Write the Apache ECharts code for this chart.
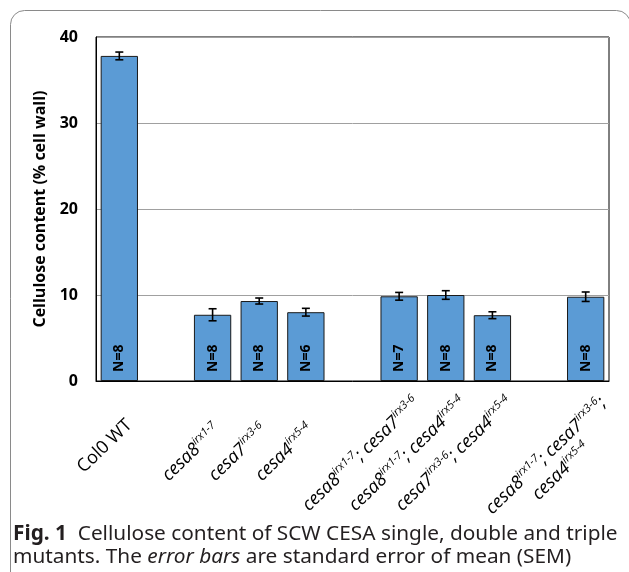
<!DOCTYPE html>
<html lang="en">
<head>
    <meta charset="UTF-8">
    <title>Cellulose content</title>
    <script src="https://cdn.jsdelivr.net/npm/echarts@6/dist/echarts.min.js"></script>
    <style>
        html, body { margin: 0; padding: 0; background: #fff; }
        #chart { width: 629px; height: 572px; }
    </style>
</head>
<body>
<div id="chart"></div>
<script>
    // categories (blank ones are the gaps between groups)
    var categories = [
        '{n|Col0 WT}',
        ' ',
        '{i|cesa8}{s|irx1-7}',
        '{i|cesa7}{s|irx3-6}',
        '{i|cesa4}{s|irx5-4}',
        '  ',
        '{i|cesa8}{s|irx1-7}{i|; cesa7}{s|irx3-6}',
        '{i|cesa8}{s|irx1-7}{i|; cesa4}{s|irx5-4}',
        '{i|cesa7}{s|irx3-6}{i|; cesa4}{s|irx5-4}',
        '   ',
        '{i|cesa8}{s|irx1-7}{i|; cesa7}{s|irx3-6}{i|;}\n{ic|cesa4}{sc|irx5-4}'
    ];
    var means = [37.8, null, 7.7, 9.3, 8.0, null, 9.85, 10.0, 7.65, null, 9.8];
    var sems = [0.45, null, 0.7, 0.35, 0.45, null, 0.45, 0.5, 0.4, null, 0.55];
    var nLabels = ['N=8', '', 'N=8', 'N=8', 'N=6', '', 'N=7', 'N=8', 'N=8', '', 'N=8'];
    var yTicks = [0, 10, 20, 30, 40];

    var errData = [];
    means.forEach(function (m, i) {
        if (m != null) errData.push([i, m - sems[i], m + sems[i]]);
    });

    // excel centres its slanted labels, so nudge each one a bit
    var labelPad = [
        [6, -11, 0, 0], null,
        [6, -4, 0, 0], [6, -4, 0, 0], [6, -4, 0, 0], null,
        [0, -32, 15, 0], [0, -32, 15, 0], [0, -32, 15, 0], null,
        [7, -32, 0, 0]
    ];
    var axisData = categories.map(function (c, i) {
        return labelPad[i] ? { value: c, textStyle: { padding: labelPad[i] } } : c;
    });

    var FONT = '"Open Sans", "Noto Sans", sans-serif';
    var CAP = '"Noto Sans", sans-serif';

    var myChart = echarts.init(document.getElementById('chart'));
    var option = {
        animation: false,
        backgroundColor: '#fff',
        title: {
            left: 13,
            top: 523,
            padding: 0,
            text: '{b|Fig. 1}  Cellulose content of SCW CESA single, double and triple\nmutants. The {it|error bars} are standard error of mean (SEM)',
            textStyle: {
                fontFamily: CAP,
                fontSize: 20.8,
                fontWeight: 'normal',
                color: '#231f20',
                lineHeight: 23,
                rich: {
                    b: { fontFamily: CAP, fontSize: 20.8, fontWeight: 'bold', color: '#231f20', lineHeight: 23 },
                    it: { fontFamily: CAP, fontSize: 20.8, fontStyle: 'italic', color: '#231f20', lineHeight: 23 }
                }
            }
        },
        graphic: [{
            type: 'rect',
            shape: { x: 10.5, y: 10.5, width: 620, height: 600, r: 14 },
            style: { fill: 'none', stroke: '#8a8a8a', lineWidth: 1 },
            silent: true
        }],
        grid: {
            left: 96,
            top: 37,
            right: 20,
            bottom: 191,
            show: true,
            borderColor: '#000',
            borderWidth: 1,
            backgroundColor: 'transparent'
        },
        xAxis: {
            type: 'category',
            data: axisData,
            axisTick: { show: false },
            axisLine: { lineStyle: { color: '#000', width: 1 } },
            axisLabel: {
                interval: 0,
                rotate: 44,
                margin: 47,
                color: '#000',
                fontFamily: FONT,
                fontSize: 18,
                rich: {
                    n: { fontFamily: FONT, fontSize: 18, color: '#000', lineHeight: 22 },
                    i: { fontFamily: FONT, fontSize: 18, fontStyle: 'italic', color: '#000', lineHeight: 22 },
                    s: { fontFamily: FONT, fontSize: 11, fontStyle: 'italic', color: '#000', verticalAlign: 'top', lineHeight: 22 },
                    ic: { fontFamily: FONT, fontSize: 18, fontStyle: 'italic', color: '#000', lineHeight: 22, align: 'center' },
                    sc: { fontFamily: FONT, fontSize: 11, fontStyle: 'italic', color: '#000', verticalAlign: 'top', lineHeight: 22, align: 'center' }
                }
            }
        },
        yAxis: {
            type: 'value',
            min: yTicks[0],
            max: yTicks[yTicks.length - 1],
            interval: 10,
            name: 'Cellulose content (% cell wall)',
            nameLocation: 'middle',
            nameGap: 45,
            nameTextStyle: { fontFamily: FONT, fontSize: 16, fontWeight: 'bold', color: '#000' },
            axisLine: { show: true, lineStyle: { color: '#000', width: 1 } },
            axisTick: { show: false },
            axisLabel: { margin: 18, fontFamily: FONT, fontSize: 16, fontWeight: 'bold', color: '#000' },
            splitLine: { show: true, lineStyle: { color: '#a0a0a0', width: 1 } }
        },
        series: [{
            type: 'bar',
            data: means,
            barCategoryGap: '20%',
            itemStyle: { color: '#5b9bd5', borderColor: '#1a1a1a', borderWidth: 1 },
            label: {
                show: true,
                position: 'insideBottom',
                distance: 9,
                rotate: 90,
                align: 'left',
                verticalAlign: 'middle',
                fontFamily: FONT,
                fontSize: 14,
                fontWeight: 'bold',
                color: '#000',
                formatter: function (p) { return nLabels[p.dataIndex]; }
            }
        }, {
            type: 'custom',
            data: errData,
            z: 10,
            renderItem: function (params, api) {
                var x = api.value(0);
                var lo = api.coord([x, api.value(1)]);
                var hi = api.coord([x, api.value(2)]);
                var w = 4;
                var st = { stroke: '#000', lineWidth: 1.6 };
                return {
                    type: 'group',
                    children: [
                        { type: 'line', shape: { x1: hi[0], y1: hi[1], x2: lo[0], y2: lo[1] }, style: st },
                        { type: 'line', shape: { x1: hi[0] - w, y1: hi[1], x2: hi[0] + w, y2: hi[1] }, style: st },
                        { type: 'line', shape: { x1: lo[0] - w, y1: lo[1], x2: lo[0] + w, y2: lo[1] }, style: st }
                    ]
                };
            }
        }]
    };
    myChart.setOption(option);
</script>
</body>
</html>
